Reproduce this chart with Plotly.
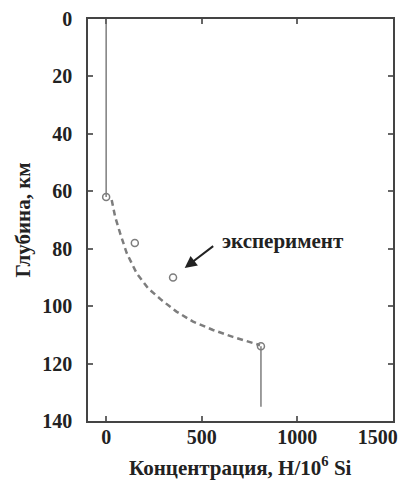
import plotly.graph_objects as go

# Measured hydrogen concentration vs depth
exp_conc = [0, 150, 350, 810]
exp_depth = [62, 78, 90, 114]

# Model profile (dashed)
model_conc = [29, 47, 73, 108, 160, 220, 290, 368, 455, 559, 663, 767, 805]
model_depth = [63.0, 68.9, 74.6, 81.6, 88.6, 93.8, 97.9, 101.9, 105.4, 108.3, 110.7, 112.7, 113.6]

# Vertical boundary segments
upper_conc = [0, 0]
upper_depth = [0, 62]
lower_conc = [810, 810]
lower_depth = [114, 135]

x_ticks = [0, 500, 1000, 1500]
y_ticks = [0, 20, 40, 60, 80, 100, 120, 140]

line_col = "#7d7d7d"
tick_font = dict(family="Liberation Serif", size=20, color="#222222")
title_font = dict(family="Liberation Serif", size=21, color="#222222")

fig = go.Figure()
fig.add_trace(go.Scatter(x=upper_conc, y=upper_depth, mode="lines",
                         line=dict(color=line_col, width=1.5), showlegend=False))
fig.add_trace(go.Scatter(x=lower_conc, y=lower_depth, mode="lines",
                         line=dict(color=line_col, width=1.5), showlegend=False))
fig.add_trace(go.Scatter(x=model_conc, y=model_depth, mode="lines",
                         line=dict(color=line_col, width=2.5, dash="6px,4px"),
                         showlegend=False))
fig.add_trace(go.Scatter(x=exp_conc, y=exp_depth, mode="markers",
                         marker=dict(symbol="circle-open", size=7, color=line_col,
                                     line=dict(width=1.5, color=line_col)),
                         showlegend=False))

# Arrow pointing at the experimental points
fig.add_annotation(x=411, y=86.7, ax=30, ay=-23, xref="x", yref="y",
                   showarrow=True, arrowhead=2, arrowsize=1.2, arrowwidth=2,
                   arrowcolor="#222222", text="")
fig.add_annotation(x=(220 - 88) / 305, y=1 - (241 - 19) / 402,
                   xref="paper", yref="paper", text="<b>эксперимент</b>",
                   showarrow=False, font=title_font, xanchor="left", yanchor="middle")

# x-axis title, anchored to the bottom edge of the figure
fig.add_annotation(x=0.5, y=-(482 - 421) / 402, xref="paper", yref="paper",
                   text="<b>Концентрация, H/10<sup>6</sup> Si</b>",
                   showarrow=False, font=title_font, xanchor="center", yanchor="bottom")

axis_common = dict(showgrid=False, zeroline=False, showline=True, linecolor="#444444",
                   linewidth=1.5, mirror="ticks", ticks="inside", ticklen=5,
                   tickcolor="#666666", tickwidth=1.5, tickfont=tick_font,
                   automargin=False, ticklabeloverflow="allow")

# The last x label is pulled left so it stays inside the figure
x_text = [f"<b>{v}</b>" for v in x_ticks]
x_text[-1] = x_text[-1] + "\u00a0" * 6

fig.update_xaxes(range=[-95, 1501], tickvals=x_ticks, ticktext=x_text,
                 ticklabelstandoff=-3, **axis_common)
fig.update_yaxes(range=[140, 0], tickvals=y_ticks,
                 ticktext=[f"<b>{v}</b>" for v in y_ticks], ticklabelstandoff=10,
                 title=dict(text="<b>Глубина, км</b>", font=title_font, standoff=6),
                 **axis_common)

fig.update_layout(width=402, height=483, margin=dict(l=88, r=9, t=19, b=62),
                  plot_bgcolor="white", paper_bgcolor="white")

fig.write_html("out.html")
